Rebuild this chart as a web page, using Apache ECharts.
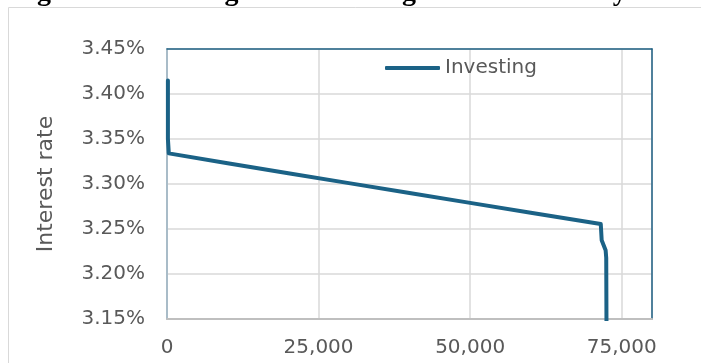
<!DOCTYPE html>
<html>
<head>
<meta charset="utf-8">
<script src="https://cdn.jsdelivr.net/npm/echarts/dist/echarts.min.js"></script>
<style>
  html, body { margin: 0; padding: 0; background: #fff; }
  #chart { width: 701px; height: 363px; }
</style>
</head>
<body>
<div id="chart"></div>
<script>
// volume (x) vs interest rate in % (y)
const volume = [150, 150, 300, 10000, 20000, 30000, 40000, 50000, 60000, 70000, 71550, 71700, 71700, 72350, 72450, 72500];
const rate = [3.415, 3.35, 3.334, 3.323, 3.312, 3.301, 3.290, 3.279, 3.268, 3.2572, 3.2555, 3.2535, 3.2375, 3.2265, 3.218, 3.13];
const xTicks = [0, 25000, 50000, 75000];
const seriesName = 'Investing';

const font = '"DejaVu Sans", sans-serif';
const lineColor = '#1b6286';
const chart = echarts.init(document.getElementById('chart'));

const points = volume.map((v, i) => [v, rate[i]]);

const option = {
  animation: false,
  graphic: [
    {
      type: 'rect',
      shape: { x: 8.5, y: 7.5, width: 800, height: 400 },
      style: { fill: 'none', stroke: '#d9d9d9', lineWidth: 1 },
      silent: true
    },
    {
      // figure caption, mostly cut off at the top
      type: 'text',
      x: 12,
      y: -7,
      style: {
        text: 'Figure 5: Investing data following as a function of yield',
        font: 'bold 28px "Liberation Serif", serif',
        fill: '#000',
        verticalAlign: 'middle'
      },
      silent: true
    }
  ],
  legend: {
    data: [{ name: seriesName, icon: 'roundRect' }],
    left: 380,
    top: 53,
    itemWidth: 55,
    itemHeight: 4,
    itemGap: 5,
    textStyle: { fontSize: 20, color: '#595959', fontFamily: font }
  },
  grid: {
    left: 167,
    top: 49,
    right: 49,
    bottom: 44
  },
  xAxis: [{
    type: 'value',
    min: 0,
    max: 80000,
    interval: 25000,
    axisLine: { show: true, onZero: false, lineStyle: { color: '#bfbfbf', width: 2 } },
    axisTick: { show: false },
    splitLine: { show: true, lineStyle: { color: '#d9d9d9', width: 1.5 } },
    axisLabel: {
      margin: 19,
      fontSize: 20,
      color: '#595959',
      fontFamily: font,
      showMaxLabel: false,
      formatter: function (v) {
        return xTicks.indexOf(v) >= 0 ? v.toLocaleString('en-US') : '';
      }
    }
  }, {
    // top border of the plot area
    type: 'value',
    position: 'top',
    min: 0,
    max: 80000,
    axisLine: { show: true, onZero: false, lineStyle: { color: '#1f6184', width: 1.5 } },
    axisTick: { show: false },
    axisLabel: { show: false },
    splitLine: { show: false }
  }],
  yAxis: [{
    type: 'value',
    min: 3.15,
    max: 3.45,
    interval: 0.05,
    name: 'Interest rate',
    nameLocation: 'middle',
    nameGap: 110,
    nameTextStyle: { fontSize: 22, color: '#595959', fontFamily: font },
    axisLine: { show: true, onZero: false, lineStyle: { color: '#a9bcc8', width: 2 } },
    axisTick: { show: false },
    splitLine: { show: true, lineStyle: { color: '#d9d9d9', width: 1.5 } },
    axisLabel: {
      margin: 22,
      fontSize: 20,
      color: '#595959',
      fontFamily: font,
      formatter: function (v) { return v.toFixed(2) + '%'; }
    }
  }, {
    // right border of the plot area
    type: 'value',
    position: 'right',
    min: 3.15,
    max: 3.45,
    axisLine: { show: true, onZero: false, lineStyle: { color: '#1f6184', width: 1.5 } },
    axisTick: { show: false },
    axisLabel: { show: false },
    splitLine: { show: false }
  }],
  series: [{
    name: seriesName,
    type: 'line',
    data: points,
    symbol: 'none',
    showSymbol: false,
    clip: true,
    lineStyle: { color: lineColor, width: 4, join: 'round', cap: 'round' },
    itemStyle: { color: lineColor }
  }]
};

chart.setOption(option);
</script>
</body>
</html>
